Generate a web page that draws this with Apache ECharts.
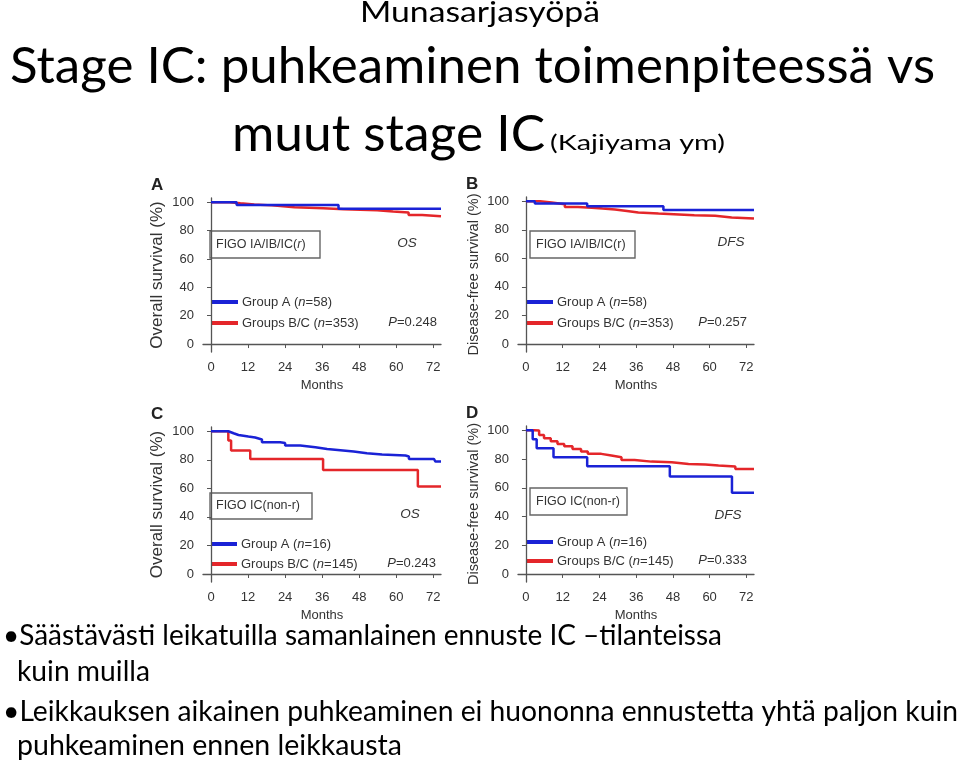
<!DOCTYPE html>
<html>
<head>
<meta charset="utf-8">
<script src="https://cdn.jsdelivr.net/npm/echarts@6/dist/echarts.min.js"></script>
<style>
  html, body { margin: 0; padding: 0; background: #fff; }
  #chart { width: 960px; height: 761px; }
</style>
</head>
<body>
<div id="chart"></div>
<script>
// tick labels
const monthTicks = [0, 12, 24, 36, 48, 60, 72];
const survivalTicks = [0, 20, 40, 60, 80, 100];

// A: FIGO IA/IB/IC(r), overall survival  [month, %]
const osRGroupA = [[0, 100], [8.3, 98.1], [41.3, 95.5], [74.5, 95.5]];
const osRGroupsBC = [[0, 100], [6, 99.3], [9.5, 98.5], [14, 97.8], [19.7, 96.4], [27, 95.8], [36.4, 95], [43, 94.3],
  [53.8, 93.4], [59, 92.7], [64, 91], [68.4, 90.1], [74.5, 90.1]];

// B: FIGO IA/IB/IC(r), disease-free survival
const dfsRGroupA = [[0, 100], [2.9, 98.4], [20, 96.5], [44.9, 93.9], [74.5, 93.9]];
const dfsRGroupsBC = [[0, 100], [4.6, 99.2], [8.4, 97.9], [12.7, 96.0], [17, 95.5], [21.5, 94.9], [25, 94.2], [29.1, 93.2],
  [33, 92.2], [36.7, 91.4], [43.3, 90.2], [55, 89.8], [61.8, 88.6], [67.2, 87.9], [74.5, 87.9]];

// C: FIGO IC(non-r), overall survival
const osNonRGroupA = [[0, 100], [5.6, 98.6], [7.3, 97.4], [8.9, 96.3], [12.1, 95.6], [14.3, 94.2], [16.5, 92.3], [22.4, 91.8],
  [24, 90], [28.9, 88.8], [33.8, 87.6], [37.6, 86.7], [41.9, 85.8], [46.2, 84.6], [50.5, 83.7], [55.4, 83], [63, 82.3],
  [64.1, 80.6], [72.2, 80.2], [72.7, 78.8], [74.5, 78.8]];
const osNonRGroupsBC = [[0, 100], [5.6, 93.5], [6.5, 86.5], [12.7, 80.6], [36.3, 72.9], [67, 61.3], [74.5, 61.3]];

// D: FIGO IC(non-r), disease-free survival
const dfsNonRGroupA = [[0, 100], [2.2, 93.8], [3.5, 87.5], [9, 81.3], [20, 75], [47, 67.8], [67.3, 56.5], [74.5, 56.5]];
const dfsNonRGroupsBC = [[0, 100], [2.6, 99.8], [4.3, 96.8], [5.9, 94.4], [8.1, 92.4], [10.3, 90.5], [12.5, 88.9], [15.2, 87],
  [18, 85.2], [20.2, 83.6], [24.6, 82.4], [27.9, 81.2], [31.2, 79.4], [35.5, 78.2], [41, 77.8], [47.6, 76.6], [53.1, 76.2],
  [58.6, 75.5], [62.9, 74.8], [68.4, 73.1], [74.5, 73.1]];

const BLUE = '#1a22d6';
const RED = '#e4262a';
const INK = '#333';
const SANS = '"Liberation Sans", Arial, sans-serif';
const SLIDE = 'Lato, "Open Sans", sans-serif';

// panel layout: grid box + texts
const panels = [
  { grid: { left: 203, top: 198, width: 238, height: 154 }, yName: 'Overall survival (%)', yNameSize: 17, letter: 'A',
    blue: osRGroupA, red: osRGroupsBC, box: [210, 231, 110, 27], boxText: '{b|FIGO IA/IB/IC(}{bi|r}{b|)}',
    tag: 'OS', tagPos: [407, 243], legY: [302, 323], legX: 212, nA: '58', nBC: '353', p: '0.248', pX: 437 },
  { grid: { left: 518, top: 197, width: 236, height: 155 }, yName: 'Disease-free survival (%)', yNameSize: 14.5, letter: 'B',
    blue: dfsRGroupA, red: dfsRGroupsBC, box: [530, 231, 105, 27], boxText: '{b|FIGO IA/IB/IC(r)}',
    tag: 'DFS', tagPos: [731, 242], legY: [302, 323], legX: 527, nA: '58', nBC: '353', p: '0.257', pX: 747 },
  { grid: { left: 203, top: 427, width: 238, height: 155 }, yName: 'Overall survival (%)', yNameSize: 17, letter: 'C',
    blue: osNonRGroupA, red: osNonRGroupsBC, box: [210, 493, 102, 26], boxText: '{b|FIGO IC(non-r)}',
    tag: 'OS', tagPos: [410, 514], legY: [544, 564], legX: 211, nA: '16', nBC: '145', p: '0.243', pX: 436 },
  { grid: { left: 518, top: 426, width: 236, height: 156 }, yName: 'Disease-free survival (%)', yNameSize: 14.5, letter: 'D',
    blue: dfsNonRGroupA, red: dfsNonRGroupsBC, box: [530, 488, 97, 27], boxText: '{b|FIGO IC(non-r)}',
    tag: 'DFS', tagPos: [728, 515], legY: [542, 561], legX: 527, nA: '16', nBC: '145', p: '0.333', pX: 747 }
];

const rich = {
  t: { font: '13px ' + SANS, fill: INK },
  i: { font: 'italic 13px ' + SANS, fill: INK },
  b: { font: '12.5px ' + SANS, fill: INK },
  bi: { font: 'italic 12.5px ' + SANS, fill: INK }
};

// squeeze slide text to the width it takes on the original slide
const measureCtx = document.createElement('canvas').getContext('2d');
function slideText(str, size, x, y, width) {
  const font = size + 'px ' + SLIDE;
  measureCtx.font = font;
  const s = width / measureCtx.measureText(str).width;
  return { type: 'text', x: x, y: y, scaleX: s,
    style: { text: str, font: font, fill: '#000', textAlign: 'left', textVerticalAlign: 'middle' } };
}

const grids = [], xAxes = [], yAxes = [], series = [], graphics = [];
panels.forEach(function (pn, i) {
  grids.push(pn.grid);
  xAxes.push({
    type: 'value', gridIndex: i, min: -2.6, max: 74.5,
    name: 'Months', nameLocation: 'middle', nameGap: 27,
    nameTextStyle: { color: INK, fontSize: 13, fontFamily: SANS },
    axisLine: { lineStyle: { color: '#555', width: 1.3 } },
    axisTick: { customValues: monthTicks, length: 4, lineStyle: { color: '#555' } },
    axisLabel: { customValues: monthTicks, margin: 9, color: INK, fontSize: 13, fontFamily: SANS },
    splitLine: { show: false }
  });
  yAxes.push({
    type: 'value', gridIndex: i, min: -5.6, max: 103,
    name: pn.yName, nameLocation: 'middle', nameGap: 37,
    nameTextStyle: { color: INK, fontSize: pn.yNameSize, fontFamily: SANS },
    axisLine: { show: true, lineStyle: { color: '#555', width: 1.3 } },
    axisTick: { show: true, customValues: survivalTicks, length: 4, lineStyle: { color: '#555' } },
    axisLabel: { customValues: survivalTicks, margin: 9, color: INK, fontSize: 13, fontFamily: SANS },
    splitLine: { show: false }
  });
  series.push({
    type: 'line', xAxisIndex: i, yAxisIndex: i, step: 'end', data: pn.red,
    showSymbol: false, silent: true, lineStyle: { color: RED, width: 2.5 }
  });
  series.push({
    type: 'line', xAxisIndex: i, yAxisIndex: i, step: 'end', data: pn.blue,
    showSymbol: false, silent: true, lineStyle: { color: BLUE, width: 2.5 }
  });

  const lx = pn.legX;
  graphics.push(
    { type: 'text', x: pn.grid.left - 52, y: pn.grid.top - 13,
      style: { text: pn.letter, font: 'bold 17px ' + SANS, fill: '#222', textAlign: 'left', textVerticalAlign: 'middle' } },
    { type: 'rect', shape: { x: pn.box[0], y: pn.box[1], width: pn.box[2], height: pn.box[3] },
      style: { fill: '#fff', stroke: '#666', lineWidth: 1.4 } },
    { type: 'text', x: pn.box[0] + 6, y: pn.box[1] + pn.box[3] / 2,
      style: { text: pn.boxText, rich: rich, textAlign: 'left', textVerticalAlign: 'middle' } },
    { type: 'text', x: pn.tagPos[0], y: pn.tagPos[1],
      style: { text: pn.tag, font: 'italic 13.5px ' + SANS, fill: INK, textAlign: 'center', textVerticalAlign: 'middle' } },
    { type: 'line', shape: { x1: lx, y1: pn.legY[0], x2: lx + 26, y2: pn.legY[0] }, style: { stroke: BLUE, lineWidth: 4 } },
    { type: 'line', shape: { x1: lx, y1: pn.legY[1], x2: lx + 26, y2: pn.legY[1] }, style: { stroke: RED, lineWidth: 4 } },
    { type: 'text', x: lx + 30, y: pn.legY[0],
      style: { text: '{t|Group A (}{i|n}{t|=' + pn.nA + ')}', rich: rich, textAlign: 'left', textVerticalAlign: 'middle' } },
    { type: 'text', x: lx + 30, y: pn.legY[1],
      style: { text: '{t|Groups B/C (}{i|n}{t|=' + pn.nBC + ')}', rich: rich, textAlign: 'left', textVerticalAlign: 'middle' } },
    { type: 'text', x: pn.pX, y: pn.legY[1] - 1,
      style: { text: '{i|P}{t|=' + pn.p + '}', rich: rich, textAlign: 'right', textVerticalAlign: 'middle' } }
  );
});

// slide title and bullets
graphics.push(
  slideText('Munasarjasyöpä', 28, 360, 13, 240),
  slideText('Stage IC: puhkeaminen toimenpiteessä vs', 50, 10, 67, 925),
  slideText('muut stage IC', 50, 232, 135, 313),
  slideText('(Kajiyama ym)', 21, 550, 143, 175),
  slideText('•Säästävästi leikatuilla samanlainen ennuste IC –tilanteissa', 28, 3, 636, 719),
  slideText('kuin muilla', 28, 17, 672, 133),
  slideText('•Leikkauksen aikainen puhkeaminen ei huononna ennustetta yhtä paljon kuin', 28, 3, 712, 955),
  slideText('puhkeaminen ennen leikkausta', 28, 17, 746, 385)
);

const chart = echarts.init(document.getElementById('chart'), null, { renderer: 'canvas' });
chart.setOption({
  backgroundColor: '#fff',
  animation: false,
  grid: grids,
  xAxis: xAxes,
  yAxis: yAxes,
  series: series,
  graphic: graphics
});
</script>
</body>
</html>
